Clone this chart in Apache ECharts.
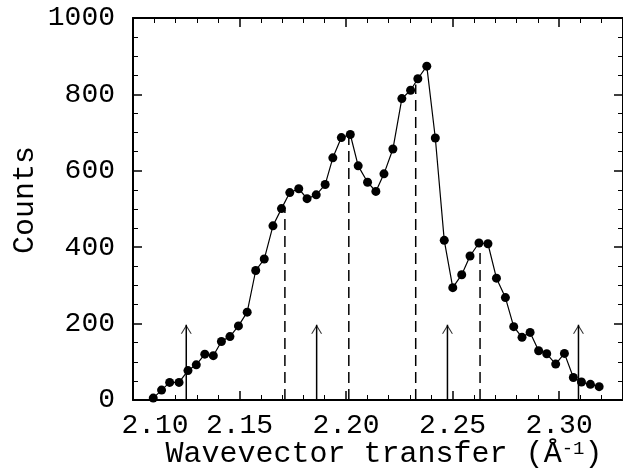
<!DOCTYPE html>
<html style="height: 100%">
<head>
    <meta charset="utf-8">
    <title>Counts vs wavevector transfer</title>
</head>
<body style="height: 100%; margin: 0; background: #fff">
    <div id="container" style="width: 623px; height: 474px"></div>
    <script src="https://cdn.jsdelivr.net/npm/echarts@6/dist/echarts.min.js"></script>
    <script type="text/javascript">
        // measured points (wavevector transfer, counts)
        var qValues = [
            2.1095, 2.1134, 2.1172, 2.1216, 2.1258, 2.1297, 2.1337, 2.1377, 2.1415, 2.1455,
            2.1495, 2.1536, 2.1576, 2.1616, 2.1657, 2.1697, 2.1736, 2.1778, 2.1817, 2.1860,
            2.1902, 2.1938, 2.1978, 2.2020, 2.2057, 2.2101, 2.2140, 2.2178, 2.2220, 2.2262,
            2.2303, 2.2337, 2.2379, 2.2419, 2.2461, 2.2501, 2.2543, 2.2582, 2.2624, 2.2666,
            2.2706, 2.2748, 2.2787, 2.2826, 2.2864, 2.2904, 2.2942, 2.2984, 2.3025, 2.3067,
            2.3105, 2.3147, 2.3188
        ];
        var counts = [
            5, 26, 46, 46, 77, 92, 120, 116, 153, 166,
            194, 230, 339, 369, 456, 501, 543, 553, 527, 537,
            564, 634, 687, 695, 613, 570, 546, 592, 657, 789,
            811, 841, 874, 686, 418, 294, 328, 377, 411, 409,
            319, 268, 192, 164, 177, 129, 121, 94, 122, 59,
            47, 41, 35
        ];
        // dashed peak positions and their heights
        var peakQ = [2.1713, 2.2013, 2.2327, 2.2629];
        var peakTop = [498, 690, 826, 398];
        // arrows
        var arrowQ = [2.1250, 2.1862, 2.2476, 2.3091];
        var arrowTop = [197, 197, 197, 197];

        var yTicks = [0, 200, 400, 600, 800, 1000];

        var font = 'Liberation Mono';
        var chevron = 'path://M0,8 L5,0 L10,8 L8.9,8 L5,1.8 L1.1,8 Z';

        var dom = document.getElementById('container');
        var myChart = echarts.init(dom);

        var points = qValues.map(function (q, i) { return [q, counts[i]]; });

        var series = [];
        peakQ.forEach(function (q, i) {
            series.push({
                type: 'line',
                data: [[q, 0], [q, peakTop[i]]],
                showSymbol: false,
                silent: true,
                lineStyle: { color: '#000', width: 1.5, type: [11, 6] },
                z: 1
            });
        });
        arrowQ.forEach(function (q, i) {
            series.push({
                type: 'line',
                data: [[q, 0], [q, arrowTop[i]]],
                showSymbol: false,
                silent: true,
                lineStyle: { color: '#000', width: 1.5 },
                z: 1
            });
        });
        series.push({
            type: 'scatter',
            data: arrowQ.map(function (q, i) { return [q, arrowTop[i]]; }),
            symbol: chevron,
            symbolSize: [11, 9],
            symbolOffset: [0, 4.5],
            itemStyle: { color: '#000' },
            silent: true
        });
        series.push({
            type: 'line',
            data: points,
            symbol: 'circle',
            symbolSize: 9,
            itemStyle: { color: '#000' },
            lineStyle: { color: '#000', width: 1.2 },
            z: 3
        });

        var xCommon = {
            type: 'value',
            min: 2.10,
            max: 2.33,
            interval: 0.05,
            splitLine: { show: false },
            axisLine: { onZero: false, lineStyle: { color: '#000', width: 2 } },
            axisTick: { inside: true, length: 9, lineStyle: { color: '#000', width: 1.5 } },
            minorTick: { show: true, splitNumber: 5, length: 5, lineStyle: { color: '#000', width: 1 } }
        };
        var yCommon = {
            type: 'value',
            min: 0,
            max: 1000,
            interval: 200,
            splitLine: { show: false },
            axisLine: { onZero: false, lineStyle: { color: '#000', width: 2 } },
            axisTick: { inside: true, length: 9, lineStyle: { color: '#000', width: 1.5 } },
            minorTick: { show: true, splitNumber: 4, length: 5, lineStyle: { color: '#000', width: 1 } }
        };

        var option = {
            animation: false,
            backgroundColor: '#fff',
            grid: { left: 133, top: 18, bottom: 74, right: -4 },
            xAxis: [
                Object.assign({}, xCommon, {
                    position: 'bottom',
                    axisLabel: {
                        color: '#000',
                        fontFamily: font,
                        fontSize: 28,
                        margin: 12,
                        showMaxLabel: false,
                        formatter: function (v) {
                            var s = v.toFixed(2);
                            return Math.abs(v - 2.10) < 1e-6 ? '{first|' + s + '}' : s;
                        },
                        rich: {
                            first: { fontFamily: font, fontSize: 28, color: '#000', padding: [0, 0, 0, 44] }
                        }
                    }
                }),
                Object.assign({}, xCommon, {
                    position: 'top',
                    axisLabel: { show: false }
                })
            ],
            yAxis: [
                Object.assign({}, yCommon, {
                    position: 'left',
                    axisLabel: {
                        color: '#000',
                        fontFamily: font,
                        fontSize: 28,
                        margin: 18,
                        formatter: function (v) {
                            return yTicks.indexOf(v) >= 0 ? String(v) : '';
                        }
                    }
                }),
                Object.assign({}, yCommon, {
                    position: 'right',
                    axisLabel: { show: false }
                })
            ],
            graphic: [
                {
                    type: 'text',
                    x: 25,
                    y: 200,
                    rotation: Math.PI / 2,
                    style: {
                        text: 'Counts',
                        fontFamily: font,
                        fontSize: 30,
                        fill: '#000',
                        textAlign: 'center',
                        textVerticalAlign: 'middle'
                    }
                },
                {
                    type: 'text',
                    x: 384,
                    y: 454,
                    style: {
                        text: 'Wavevector transfer (Å{sup|-1})',
                        fontFamily: font,
                        fontSize: 30,
                        fill: '#000',
                        textAlign: 'center',
                        textVerticalAlign: 'middle',
                        rich: {
                            sup: { fontFamily: font, fontSize: 19, fill: '#000', verticalAlign: 'top' }
                        }
                    }
                }
            ],
            series: series
        };

        myChart.setOption(option);
    </script>
</body>
</html>
